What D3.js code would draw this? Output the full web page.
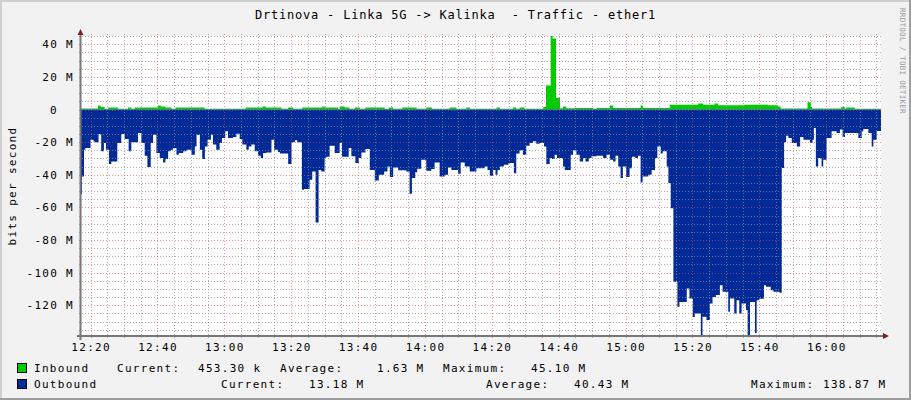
<!DOCTYPE html>
<html><head><meta charset="utf-8">
<script src="https://cdn.jsdelivr.net/npm/d3@7"></script>
<style>html,body{margin:0;padding:0;background:#f2f2f2;} svg{display:block;}</style>
</head><body>
<svg id="c" width="911" height="400"></svg>
<script>
const titleText = "Drtinova - Linka 5G -> Kalinka  - Traffic - ether1";
const yAxisTitle = "bits per second";
const watermark = "RRDTOOL / TOBI OETIKER";
// minutes after 12:17:00
const outTimes = [0,0.4,1.05,1.45,3.0,3.9,4.2,5.4,6.2,7.0,7.6,8.5,9.2,11.0,12.2,13.2,14.4,15.2,17.2,18.2,19.2,20.0,21.0,21.7,22.7,23.7,24.7,25.4,26.2,27.0,27.7,28.7,29.4,30.7,31.7,33.2,34.2,34.7,35.7,36.4,37.2,38.0,39.0,39.6,40.6,41.6,42.3,43.3,44.1,45.6,46.6,47.6,48.4,49.6,50.3,51.1,52.1,53.1,53.9,54.6,55.6,57.1,57.9,59.1,59.6,62.1,63.1,64.1,64.8,66.2,66.8,68.5,69.3,70.3,71.2,72.0,73.0,73.5,74.5,76.0,77.5,78.2,80.2,81.0,82.2,83.2,84.0,85.2,86.5,88.0,89.2,90.8,91.8,92.5,93.5,95.0,97.4,98.4,99.1,100.1,100.7,101.9,103.4,104.9,105.9,107.4,108.9,109.9,110.9,112.9,113.7,114.9,116.4,118.4,120.9,121.7,122.4,123.4,124.1,124.7,125.4,126.6,128.0,129.6,130.3,131.3,132.3,133.3,134.3,135.3,136.3,137.3,138.6,139.3,140.3,141.0,141.8,142.5,144.3,144.8,146.6,147.3,148.3,149.3,150.3,151.0,152.0,152.8,154.3,156.3,157.3,158.3,159.3,160.0,160.8,161.5,162.2,163.2,164.2,164.9,165.9,166.7,167.5,168.1,169.8,170.8,171.8,172.5,173.5,174.1,175.3,175.8,176.5,177.3,178.5,179.1,181.3,182.1,183.1,183.7,185.5,186.0,187.2,188.2,189.0,190.0,191.2,192.0,193.7,194.2,195.5,196.2,197.0,197.7,199.0,199.5,200.2,201.7,202.2,203.0,204.4,205.0,206.4,207.2,209.0,209.7,210.4,211.0,211.7,212.7,214.2,215.2,216.2,218.1,218.9,219.3,219.9,220.6,221.6,222.1,223.1,224.6,226.1,227.1,227.9,228.6,232.6,233.6,234.1,235.6,236.6,237.1,238.1];
const outValues = [-52,-41,-24.6,-23.6,-18.5,-19.5,-20,-15,-25.6,-20.5,-24.6,-33.4,-31.8,-20.5,-15,-18,-25.6,-20,-14.4,-20.5,-28.3,-35.3,-20.5,-15.4,-26.7,-29.7,-32.4,-30.4,-25.6,-24.6,-23.6,-27.7,-26.7,-25.6,-24.6,-27.7,-22.6,-15.4,-24.6,-30.4,-22.6,-18.5,-15.4,-21.5,-24.6,-20.5,-17.4,-13.3,-17.4,-16.8,-14.8,-18,-21.5,-24.6,-22.6,-21.5,-25.6,-28.3,-29.7,-26.7,-26.3,-18.5,-24.6,-26,-27,-33.4,-20,-18.9,-20,-49.2,-48.8,-43,-38,-69.3,-37,-38,-29.7,-29,-22.2,-26.7,-20.5,-29,-23.6,-28.7,-32.8,-29.7,-26.3,-24.2,-37,-43.5,-40,-38,-34.9,-41.4,-35.5,-37.3,-38,-51.7,-42,-38.5,-36.3,-30.8,-37.5,-36.5,-32.4,-41,-40,-35.5,-37,-39.4,-32.4,-34.9,-38,-36,-34.9,-37,-40.6,-37,-40,-37,-34.9,-33.8,-32.8,-39,-27,-25,-27.7,-22.2,-20.5,-19.5,-21,-20.5,-22.6,-33.4,-29.7,-30.4,-27.7,-29.7,-34.9,-37,-27.7,-25,-27.7,-31.8,-29.7,-31.8,-29.7,-28.7,-28.3,-29.7,-27.7,-30.8,-31.8,-28.3,-34.9,-42,-34.9,-41.4,-36,-29,-29.7,-28.3,-44.7,-41,-40,-37,-29.7,-22.6,-27,-25.6,-34.9,-45,-60.5,-105.6,-121,-118,-109.7,-115.9,-127.2,-125,-138.87,-127,-129,-119,-114.9,-113.8,-107.7,-111.8,-124,-115.9,-125,-117,-125,-119,-123,-138.5,-118,-137,-117,-116,-107.7,-108.7,-110.8,-111.8,-112.4,-35.9,-20,-16,-17.4,-20.5,-22.6,-16.8,-18.5,-20.5,-18.5,-11.3,-34.9,-29.7,-34.9,-30.8,-17.4,-13.3,-14.4,-12.3,-16.8,-14.4,-17.4,-13.3,-11.9,-14.4,-22.6,-18.5,-13.2];
const inTimes = [0,5.2,6.0,7.2,8.2,11.2,14.2,15.2,16.2,23.2,24.0,25.4,27.2,28.4,37.1,49.4,54.4,55.4,60.1,62.1,63.6,66.3,72.3,73.0,77.0,77.5,79.0,80.5,82.0,83.5,85.2,91.0,92.2,93.5,96.2,100.5,103.4,105.1,110.4,112.4,115.4,116.4,124.4,125.4,129.3,130.3,131.3,132.8,138.4,139.2,140.6,141.2,142.2,143.4,144.3,145.3,147.8,153.3,154.3,158.3,159.3,167.5,168.2,176.2,184.7,186.2,189.6,190.6,198.6,205.6,208.6,209.4,217.4,218.4,218.8,227.5,228.5,229.0,231.5];
const inValues = [0.6,2.5,1.6,0.5,1.2,0.5,1.2,0.5,1.2,2.5,1.8,1.2,0.5,1.2,0.5,1.2,1.8,1.2,0.5,1.2,0.5,1.2,1.8,1.2,0.5,1.8,1.2,0.5,1.2,0.5,1.2,0.5,1.2,0.5,1.2,0.5,1.2,0.5,1.2,0.5,1.2,0.5,1.2,0.5,1.2,0.5,1.2,0.5,1.5,14.8,45.1,43.5,7.2,0.8,1.8,0.8,1.0,0.5,1.0,2.5,1.0,2.5,1.0,3.0,3.7,3.0,3.7,2.7,3.0,2.7,1.8,0.6,4.5,1.5,0.6,1.5,0.6,1.3,0.45];
const xTickLabels = ["12:20","12:40","13:00","13:20","13:40","14:00","14:20","14:40","15:00","15:20","15:40","16:00"];
const yTickValues = [40,20,0,-20,-40,-60,-80,-100,-120];
const yTickLabels = ["40 M","20 M","0","-20 M","-40 M","-60 M","-80 M","-100 M","-120 M"];
const legendNames = ["Inbound","Outbound"];
const legendColors = ["#00cc00","#002a97"];
const inStats = ["453.30 k","1.63 M","45.10 M"];
const outStats = ["13.18 M","40.43 M","138.87 M"];

const base = new Date(2020,0,1,12,17,0).getTime();
const toDate = m => new Date(base + m*60000);
const W = 911, H = 400;
const P = {l:81, r:881, t:36, b:336};
const svg = d3.select("#c");
const FONT = "DejaVu Sans Mono";

const x = d3.scaleTime().domain([toDate(0.15), toDate(239.38)]).range([P.l, P.r]);
const y = d3.scaleLinear().domain([-138.87, 45.10]).range([P.b, P.t]);

// background and 3D border
svg.append("rect").attr("width",W).attr("height",H).attr("fill","#f2f2f2");
svg.append("path").attr("d",`M0,1H${W} M1,0V${H}`).attr("stroke","#cfcfcf").attr("stroke-width",2);
svg.append("path").attr("d",`M0,${H-1}H${W} M${W-1},0V${H}`).attr("stroke","#9e9e9e").attr("stroke-width",2);
svg.append("rect").attr("x",P.l).attr("y",P.t).attr("width",P.r-P.l).attr("height",P.b-P.t).attr("fill","#fff");

svg.append("clipPath").attr("id","clip").append("rect").attr("x",P.l).attr("y",P.t).attr("width",P.r-P.l).attr("height",P.b-P.t);

const mk = (ts, vs) => { const d = ts.map((t,i)=>({t:toDate(t), v:vs[i]})); d.push({t:toDate(239.6), v:vs[vs.length-1]}); return d; };
const area = d3.area().x(d=>x(d.t)).y0(y(0)).y1(d=>y(d.v)).curve(d3.curveStepAfter);
const g = svg.append("g").attr("clip-path","url(#clip)");
g.append("path").datum(mk(inTimes,inValues)).attr("d",area).attr("fill",legendColors[0]);
g.append("path").datum(mk(outTimes,outValues)).attr("d",area).attr("fill",legendColors[1]);

// grid
const minorY = d3.range(45, -136, -5).filter(v => v % 20 !== 0);
const majorY = yTickValues;
const t0 = toDate(3);
const minorX = d3.range(-0, 48).map(i => new Date(t0.getTime() + i*5*60000)).filter(d => d <= x.domain()[1] && (d.getMinutes() % 20 !== 0));
const majorX = d3.range(0, 12).map(i => new Date(t0.getTime() + i*20*60000));
const grid = svg.append("g").attr("shape-rendering","crispEdges");
const gridMinor = "rgba(143,143,143,0.7)", gridMajor = "rgba(222,79,79,0.6)";
minorY.forEach(v => grid.append("line").attr("x1",P.l-2).attr("x2",P.r+2).attr("y1",Math.round(y(v))+0.5).attr("y2",Math.round(y(v))+0.5).attr("stroke",gridMinor).attr("stroke-dasharray","1,2"));
minorX.forEach(d => grid.append("line").attr("y1",P.t-2).attr("y2",P.b+2).attr("x1",Math.round(x(d))+0.5).attr("x2",Math.round(x(d))+0.5).attr("stroke",gridMinor).attr("stroke-dasharray","1,2"));
majorY.forEach(v => grid.append("line").attr("x1",P.l-2).attr("x2",P.r+2).attr("y1",Math.round(y(v))+0.5).attr("y2",Math.round(y(v))+0.5).attr("stroke",gridMajor).attr("stroke-dasharray","1,2"));
majorX.forEach(d => grid.append("line").attr("y1",P.t-2).attr("y2",P.b+2).attr("x1",Math.round(x(d))+0.5).attr("x2",Math.round(x(d))+0.5).attr("stroke",gridMajor).attr("stroke-dasharray","1,2"));

// axes
svg.append("line").attr("x1",P.l-0.5).attr("x2",P.l-0.5).attr("y1",P.t-4).attr("y2",P.b+4).attr("stroke","#777").attr("stroke-width",2);
svg.append("line").attr("x1",P.l-4).attr("x2",P.r+4).attr("y1",P.b).attr("y2",P.b).attr("stroke","#777").attr("stroke-width",2);
svg.append("path").attr("d",`M${P.l-3.5},${P.t-1}L${P.l+2.5},${P.t-1}L${P.l-0.5},${P.t-7}Z`).attr("fill","#802020");
svg.append("path").attr("d",`M${P.r+2},${P.b-3}L${P.r+2},${P.b+3}L${P.r+8},${P.b}Z`).attr("fill","#802020");

const txt = (sel, s, size, ls) => sel.append("text").text(s).attr("font-family",FONT).attr("font-size",size).attr("letter-spacing",ls).attr("fill","#000");

// title
txt(svg, titleText, 12, 0.8).attr("x",W/2).attr("y",19).attr("text-anchor","middle").attr("xml:space","preserve");

// y labels
yTickValues.forEach((v,i) => {
  const lab = yTickLabels[i];
  const t = txt(svg, lab, 11, 1.3).attr("y", y(v)+4).attr("text-anchor","end");
  t.attr("x", lab === "0" ? 58 : 74);
});
// x labels
majorX.forEach((d,i) => txt(svg, xTickLabels[i], 11, 1.3).attr("x", x(d)+0.6).attr("y",351).attr("text-anchor","middle"));

// y title
txt(svg, yAxisTitle, 11, 1.3).attr("text-anchor","middle").attr("transform","translate(16,186) rotate(-90)");

// watermark
svg.append("text").text(watermark).attr("font-family",FONT).attr("font-size",7.5).attr("letter-spacing",0.3).attr("fill","#999").attr("transform","translate(900,8) rotate(90)");

// legend
[0,1].forEach(i => {
  const yy = i===0 ? 363 : 379;
  svg.append("rect").attr("x",17.5).attr("y",yy+0.5).attr("width",9).attr("height",9).attr("fill",legendColors[i]).attr("stroke","#000");
  txt(svg, legendNames[i], 11, 1.3).attr("x",34).attr("y",yy+9);
});
const row1 = [["Current:",117],[inStats[0],198],["Average:",280],[inStats[1],377],["Maximum:",443],[inStats[2],531]];
const row2 = [["Current:",221],[outStats[0],309],["Average:",486],[outStats[1],574],["Maximum:",751],[outStats[2],823]];
row1.forEach(([s,xx]) => txt(svg, s, 11, 1.3).attr("x",xx).attr("y",372).attr("xml:space","preserve"));
row2.forEach(([s,xx]) => txt(svg, s, 11, 1.3).attr("x",xx).attr("y",388).attr("xml:space","preserve"));
</script>
</body></html>
